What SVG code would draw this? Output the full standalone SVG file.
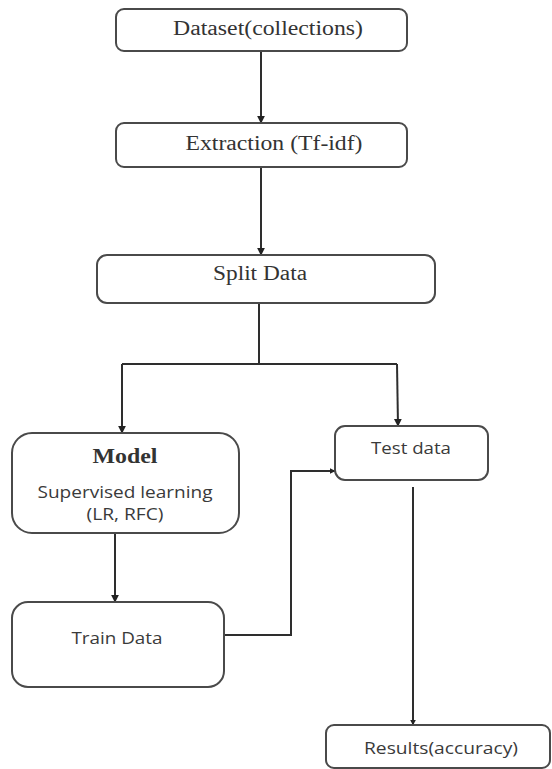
<svg xmlns="http://www.w3.org/2000/svg" width="552" height="769" viewBox="0 0 552 769">
  <defs>
    <style>
      .box { fill: #ffffff; stroke: #4a4a4a; stroke-width: 2; }
      .serif { font-family: "Liberation Serif", "Times New Roman", serif; fill: #333333; text-anchor: middle; font-size: 20px; }
      .sans { font-family: "Open Sans", "Noto Sans", sans-serif; fill: #3a3a3a; text-anchor: middle; font-size: 16px; }
      .link { fill: none; stroke: #2e2e2e; stroke-width: 2; }
    </style>
    <marker id="arrow" viewBox="0 0 10 10" refX="9" refY="5" markerWidth="6" markerHeight="6" orient="auto" markerUnits="userSpaceOnUse">
      <path d="M0,0 L10,5 L0,10 z" fill="#222222"/>
    </marker>
    <marker id="arrowWide" viewBox="0 0 10 10" refX="9" refY="5" markerWidth="8" markerHeight="11" orient="auto" markerUnits="userSpaceOnUse">
      <path d="M0,0 L10,5 L0,10 z" fill="#222222"/>
    </marker>
  </defs>

  <rect width="552" height="769" fill="#ffffff"/>

  <g id="connectors">
    <line class="link" x1="261" y1="51" x2="261" y2="123" marker-end="url(#arrowWide)"/>
    <line class="link" x1="261" y1="167" x2="261" y2="255" marker-end="url(#arrowWide)"/>
    <polyline class="link" points="259,303 259,364"/>
    <polyline class="link" points="122,364 397,364"/>
    <line class="link" x1="122" y1="364" x2="122" y2="433" marker-end="url(#arrowWide)"/>
    <line class="link" x1="397" y1="364" x2="398" y2="426" marker-end="url(#arrowWide)"/>
    <line class="link" x1="115" y1="533" x2="115" y2="602" marker-end="url(#arrowWide)"/>
    <polyline class="link" points="224,635 291,635 291,471 335,471" marker-end="url(#arrow)"/>
    <line class="link" x1="413" y1="487" x2="413" y2="725" marker-end="url(#arrow)"/>
  </g>

  <g id="dataset">
    <rect class="box" x="116" y="9" width="291" height="42" rx="8"/>
    <text class="serif" x="268" y="35" textLength="190" lengthAdjust="spacingAndGlyphs">Dataset(collections)</text>
  </g>

  <g id="extraction">
    <rect class="box" x="116" y="123" width="291" height="44" rx="8"/>
    <text class="serif" x="274" y="150" textLength="177" lengthAdjust="spacingAndGlyphs">Extraction (Tf-idf)</text>
  </g>

  <g id="split">
    <rect class="box" x="97" y="255" width="338" height="48" rx="10"/>
    <text class="serif" x="260" y="280" textLength="94" lengthAdjust="spacingAndGlyphs">Split Data</text>
  </g>

  <g id="model">
    <rect class="box" x="12" y="433" width="227" height="100" rx="20"/>
    <text class="serif" x="125" y="463" font-weight="bold" textLength="65" lengthAdjust="spacingAndGlyphs">Model</text>
    <text class="sans" x="125" y="498" font-size="17" textLength="175" lengthAdjust="spacingAndGlyphs">Supervised learning</text>
    <text class="sans" x="125" y="520" font-size="17" textLength="77" lengthAdjust="spacingAndGlyphs">(LR, RFC)</text>
  </g>

  <g id="test-data">
    <rect class="box" x="335" y="426" width="153" height="54" rx="10"/>
    <text class="sans" x="411" y="454" textLength="80" lengthAdjust="spacingAndGlyphs">Test data</text>
  </g>

  <g id="train-data">
    <rect class="box" x="12" y="602" width="212" height="85" rx="16"/>
    <text class="sans" x="117" y="644" textLength="91" lengthAdjust="spacingAndGlyphs">Train Data</text>
  </g>

  <g id="results">
    <rect class="box" x="326" y="725" width="224" height="43" rx="8"/>
    <text class="sans" x="441" y="754" textLength="154" lengthAdjust="spacingAndGlyphs">Results(accuracy)</text>
  </g>
</svg>
